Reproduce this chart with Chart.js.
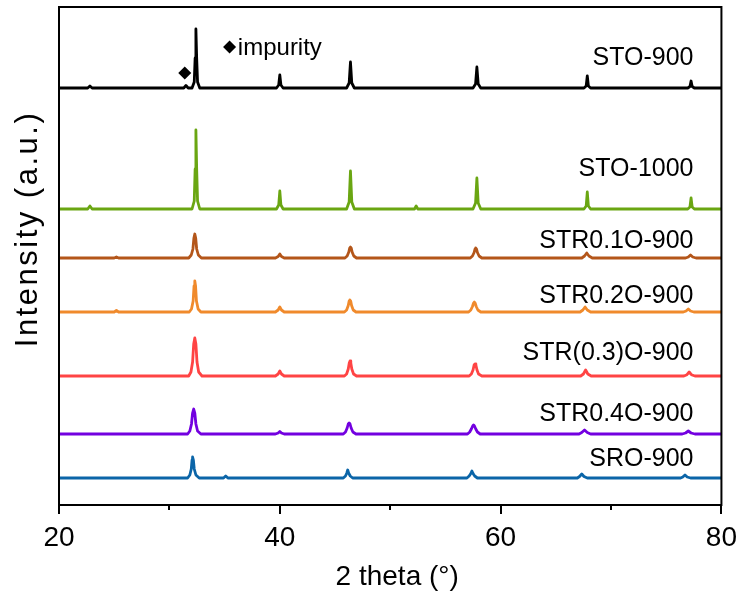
<!DOCTYPE html>
<html><head><meta charset="utf-8">
<script src="https://cdn.jsdelivr.net/npm/chart.js@4/dist/chart.umd.min.js"></script>
<style>html,body{margin:0;padding:0;background:#fff;}canvas{display:block;}</style>
</head><body>
<canvas id="c" width="744" height="594"></canvas>
<script>
// ---- data (2θ in degrees, intensity in a.u. above each pattern's own baseline) ----
const seriesNames = ["STO-900","STO-1000","STR0.1O-900","STR0.2O-900","STR(0.3)O-900","STR0.4O-900","SRO-900"];
const baselineOffsets = [417, 296, 247, 193, 129, 71, 27];
const xTicks = [20, 40, 60, 80];
const xMinorTicks = [30, 50, 70];

const sto900 = [[20,0],[22.6,0],[22.8,2],[23.0,0],
 [31.3,0],[31.5,2.5],[31.7,0],
 [32.05,0],[32.25,6],[32.33,30],[32.4,59],[32.47,30],[32.55,6],[32.75,0],
 [39.7,0],[39.9,3],[40.0,13],[40.1,3],[40.3,0],
 [46.05,0],[46.28,5],[46.4,26],[46.52,5],[46.75,0],
 [57.5,0],[57.73,4],[57.85,21],[57.97,4],[58.2,0],
 [67.55,0],[67.75,2],[67.85,12],[67.95,2],[68.15,0],
 [76.95,0],[77.15,1.5],[77.25,7],[77.35,1.5],[77.55,0],[80,0]];
const sto1000 = [[20,0],[22.6,0],[22.8,3],[23.0,0],
 [32.05,0],[32.25,8],[32.33,40],[32.4,79],[32.47,40],[32.55,8],[32.75,0],
 [39.7,0],[39.9,4],[40.0,18],[40.1,4],[40.3,0],
 [46.05,0],[46.28,7],[46.4,38],[46.52,7],[46.75,0],
 [52.2,0],[52.35,3],[52.5,0],
 [57.5,0],[57.73,6],[57.85,31],[57.97,6],[58.2,0],
 [67.55,0],[67.75,3],[67.85,17],[67.95,3],[68.15,0],
 [76.95,0],[77.15,2],[77.25,11],[77.35,2],[77.55,0],[80,0]];
const str01 = [[20,0],[25.0,0],[25.2,1],[25.4,0],
 [31.75,0],[31.98,3],[32.13,9],[32.22,20],[32.3,24],[32.38,20],[32.47,9],[32.62,3],[32.9,0],
 [39.6,0],[39.85,1.5],[40.0,4],[40.15,1.5],[40.4,0],
 [45.9,0],[46.1,2],[46.25,6],[46.33,10],[46.4,11],[46.47,10],[46.55,6],[46.7,2],[46.95,0],
 [57.25,0],[57.45,2],[57.6,5.5],[57.68,9],[57.75,10],[57.82,9],[57.9,5.5],[58.05,2],[58.3,0],
 [67.35,0],[67.6,2],[67.8,5],[68.0,2],[68.3,0],
 [76.75,0],[77.0,1],[77.2,3],[77.4,1],[77.7,0],[80,0]];
const str02 = [[20,0],[25.0,0],[25.2,1.5],[25.4,0],
 [31.8,0],[32.0,3],[32.15,11],[32.23,26],[32.3,31],[32.37,26],[32.45,11],[32.6,3],[32.85,0],
 [39.6,0],[39.85,2],[40.0,5],[40.15,2],[40.4,0],
 [45.85,0],[46.05,2],[46.2,6.5],[46.28,11],[46.35,12],[46.42,11],[46.5,6.5],[46.65,2],[46.9,0],
 [57.1,0],[57.3,2],[57.45,5.5],[57.55,9],[57.62,10],[57.69,9],[57.79,5.5],[57.94,2],[58.2,0],
 [67.2,0],[67.45,2],[67.65,5],[67.85,2],[68.15,0],
 [76.55,0],[76.8,1],[77.0,3],[77.2,1],[77.5,0],[80,0]];
const str03 = [[20,0],
 [31.75,0],[31.95,4],[32.1,14],[32.2,32],[32.3,38],[32.4,32],[32.5,14],[32.65,4],[32.95,0],
 [39.6,0],[39.85,2],[40.0,5],[40.15,2],[40.4,0],
 [45.85,0],[46.05,2],[46.2,7],[46.29,13],[46.36,15],[46.43,13],[46.52,7],[46.68,2],[46.95,0],
 [57.15,0],[57.35,2],[57.5,6],[57.6,11],[57.68,12],[57.76,11],[57.86,6],[58.0,2],[58.3,0],
 [67.25,0],[67.5,2],[67.7,6],[67.9,2],[68.2,0],
 [76.6,0],[76.88,1.3],[77.08,4],[77.28,1.3],[77.6,0],[80,0]];
const str04 = [[20,0],
 [31.65,0],[31.85,3],[32.0,10],[32.1,21],[32.2,25],[32.3,21],[32.4,10],[32.55,3],[32.85,0],
 [39.6,0],[39.85,1],[40.0,2.5],[40.15,1],[40.4,0],
 [45.75,0],[45.95,2],[46.1,6],[46.2,10],[46.28,11],[46.36,10],[46.46,6],[46.62,2],[46.9,0],
 [57.0,0],[57.2,2],[57.35,5],[57.47,8],[57.55,9],[57.63,8],[57.75,5],[57.9,2],[58.15,0],
 [67.1,0],[67.35,1.5],[67.6,4],[67.85,1.5],[68.15,0],
 [76.45,0],[76.75,1],[77.0,3],[77.25,1],[77.6,0],[80,0]];
const sro900 = [[20,0],
 [31.65,0],[31.85,3],[31.98,9],[32.05,18],[32.1,21],[32.17,18],[32.25,9],[32.4,3],[32.7,0],
 [34.9,0],[35.1,2],[35.3,0],
 [45.75,0],[45.95,2],[46.07,5],[46.15,8],[46.23,5],[46.38,2],[46.6,0],
 [56.95,0],[57.15,2],[57.3,4.5],[57.4,7],[57.5,4.5],[57.65,2],[57.9,0],
 [66.95,0],[67.15,1.5],[67.35,4],[67.55,1.5],[67.85,0],
 [76.3,0],[76.5,1],[76.7,3],[76.9,1],[77.2,0],[80,0]];
const patterns = [sto900, sto1000, str01, str02, str03, str04, sro900];

// impurity markers (2θ, a.u.)
const impurityMarks = [[31.39, 432], [35.45, 458]];
const impurityText = "impurity";

// ---- styles / placement ----
const colors = ["#000000","#6aa612","#b4561a","#f08a2c","#ff4444","#7300e0","#0b65a8"];
const labelY = [449, 337.5, 266, 211, 154, 93, 47.5];
const labelX = 77.47;
const FONT = '"Liberation Sans", Arial, sans-serif';

const datasets = patterns.map((pts, i) => ({
  label: seriesNames[i],
  data: pts.map(p => ({x: p[0], y: p[1] + baselineOffsets[i]})),
  borderColor: colors[i],
  borderWidth: 2.8,
  pointRadius: 0,
  tension: 0,
  borderJoinStyle: 'round',
  fill: false
}));
datasets.push({
  label: 'impurity',
  data: impurityMarks.map(p => ({x: p[0], y: p[1]})),
  showLine: false,
  pointStyle: 'rectRot',
  pointRadius: 6.5,
  pointBackgroundColor: '#000',
  pointBorderColor: '#000',
  pointBorderWidth: 0
});

const decor = {
  id: 'decor',
  afterDatasetsDraw(chart) {
    const ctx = chart.ctx, xs = chart.scales.x, ys = chart.scales.y;
    ctx.save();
    ctx.fillStyle = '#000';
    ctx.font = '25px ' + FONT;
    ctx.textAlign = 'right';
    ctx.textBaseline = 'alphabetic';
    seriesNames.forEach((n, i) => {
      ctx.fillText(n, xs.getPixelForValue(labelX), ys.getPixelForValue(labelY[i]) + 0.358 * 25);
    });
    ctx.font = '24px ' + FONT;
    ctx.textAlign = 'left';
    ctx.fillText(impurityText, xs.getPixelForValue(36.2), ys.getPixelForValue(450));
    ctx.restore();
  },
  afterDraw(chart) {
    const ctx = chart.ctx, a = chart.chartArea, xs = chart.scales.x;
    ctx.save();
    ctx.strokeStyle = '#000';
    ctx.lineWidth = 2;
    ctx.strokeRect(a.left, a.top, a.right - a.left, a.bottom - a.top);
    ctx.beginPath();
    xMinorTicks.forEach(v => {
      const px = Math.round(xs.getPixelForValue(v));
      ctx.moveTo(px, a.bottom);
      ctx.lineTo(px, a.bottom + 5);
    });
    ctx.stroke();
    // axis titles
    ctx.fillStyle = '#000';
    ctx.font = '28px ' + FONT;
    ctx.textAlign = 'center';
    ctx.textBaseline = 'alphabetic';
    ctx.fillText('2 theta (°)', (a.left + a.right) / 2 + 7, 585);
    ctx.translate(37, 229);
    ctx.rotate(-Math.PI / 2);
    ctx.font = '31px ' + FONT;
    try { ctx.letterSpacing = '2.5px'; } catch (e) {}
    ctx.fillText('Intensity (a.u.)', 0, 0);
    ctx.restore();
  }
};

new Chart(document.getElementById('c'), {
  type: 'line',
  data: { datasets },
  options: {
    responsive: false,
    animation: false,
    events: [],
    layout: { padding: { left: 59, right: 19, top: 7, bottom: 0 } },
    plugins: { legend: { display: false }, tooltip: { enabled: false } },
    scales: {
      x: {
        type: 'linear', min: 20, max: 80,
        afterBuildTicks(s) { s.ticks = xTicks.map(v => ({value: v})); },
        ticks: { font: { size: 28, family: FONT }, color: '#000', padding: 7, maxRotation: 0 },
        grid: { drawOnChartArea: false, drawTicks: true, tickLength: 9, color: '#000', lineWidth: 2 },
        border: { display: true, color: '#000', width: 2 },
        afterFit(s) { s.height = 89; }
      },
      y: { type: 'linear', min: 0, max: 498, display: false }
    }
  },
  plugins: [decor]
});
</script>
</body></html>
